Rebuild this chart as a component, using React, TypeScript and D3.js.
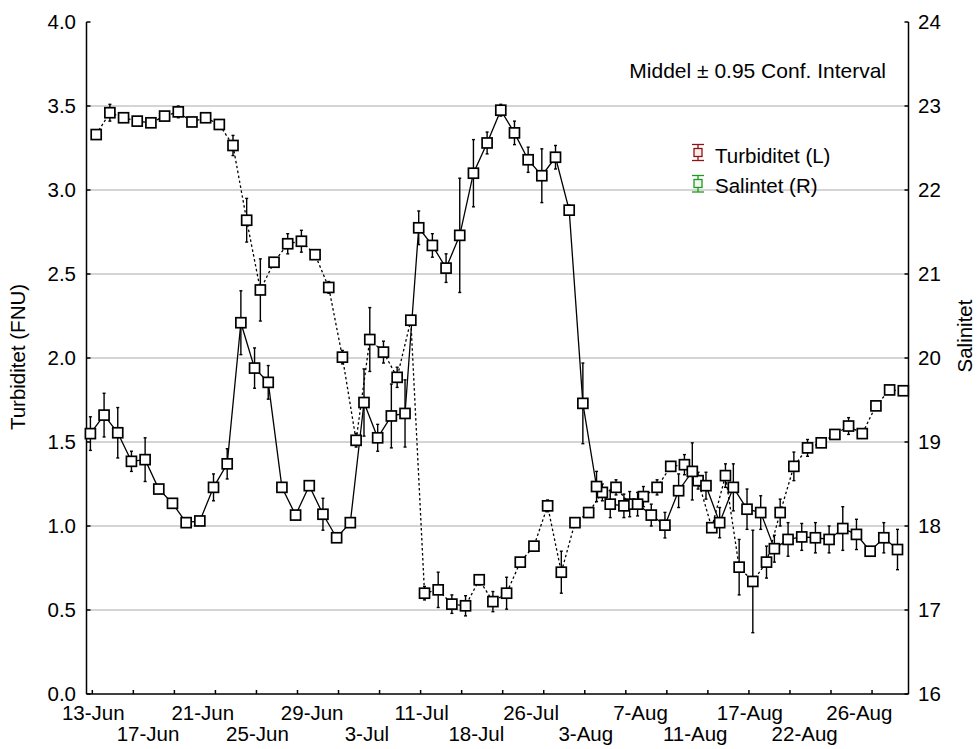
import React from 'react';
import * as d3 from 'd3';

// Sampling-date labels shown under every fourth sample
const dateLabels = ['13-Jun', '17-Jun', '21-Jun', '25-Jun', '29-Jun', '3-Jul', '11-Jul', '18-Jul', '26-Jul', '3-Aug', '7-Aug', '11-Aug', '17-Aug', '22-Aug', '26-Aug'];

// Turbidity (FNU), mean per sample and half-width of 0.95 confidence interval
const turbidityMean = [1.55, 1.66, 1.555, 1.385, 1.395, 1.22, 1.135, 1.02, 1.03, 1.23, 1.37, 2.21, 1.94, 1.855, 1.23, 1.065, 1.24, 1.07, 0.93, 1.02, 1.735, 1.525, 1.655, 1.67, 2.775, 2.67, 2.535, 2.73, 3.1, 3.28, 3.475, 3.34, 3.18, 3.085, 3.195, 2.88, 1.73, 1.235, 1.13, 1.12, 1.13, 1.065, 1.005, 1.21, 1.325, 1.24, 1.02, 1.23, 1.1, 1.08, 0.865, 0.92, 0.935, 0.93, 0.92, 0.985, 0.95, 0.85, 0.93, 0.86];
const turbidityCI = [0.1, 0.13, 0.15, 0.06, 0.13, 0.02, 0.02, 0.02, 0.02, 0.08, 0.09, 0.19, 0.12, 0.1, 0.02, 0.02, 0.02, 0.095, 0.02, 0.02, 0.2, 0.08, 0.19, 0.2, 0.1, 0.07, 0.085, 0.34, 0.2, 0.065, 0.035, 0.07, 0.075, 0.16, 0.07, 0.03, 0.24, 0.09, 0.08, 0.07, 0.07, 0.065, 0.076, 0.1, 0.17, 0.08, 0.09, 0.14, 0.12, 0.1, 0.08, 0.1, 0.08, 0.09, 0.08, 0.13, 0.09, 0.02, 0.09, 0.12];

// Salinity, mean per sample and half-width of 0.95 confidence interval
const salinityMean = [22.66, 22.92, 22.86, 22.82, 22.8, 22.88, 22.93, 22.81, 22.86, 22.78, 22.53, 21.64, 20.81, 21.14, 21.36, 21.39, 21.23, 20.84, 20.01, 19.02, 20.22, 20.07, 19.77, 20.45, 17.2, 17.24, 17.07, 17.05, 17.36, 17.1, 17.2, 17.57, 17.76, 18.24, 17.45, 18.04, 18.16, 18.4, 18.46, 18.26, 18.35, 18.46, 18.71, 18.73, 18.54, 17.98, 18.6, 17.51, 17.34, 17.57, 18.16, 18.71, 18.93, 18.99, 19.09, 19.19, 19.1, 19.43, 19.62, 19.61];
const salinityCI = [0.05, 0.1, 0.04, 0.04, 0.04, 0.04, 0.07, 0.04, 0.04, 0.04, 0.12, 0.26, 0.37, 0.05, 0.12, 0.13, 0.04, 0.07, 0.08, 0.08, 0.38, 0.13, 0.12, 0.05, 0.08, 0.21, 0.11, 0.12, 0.06, 0.12, 0.19, 0.04, 0.04, 0.07, 0.25, 0.04, 0.04, 0.1, 0.09, 0.15, 0.12, 0.09, 0.05, 0.12, 0.1, 0.05, 0.14, 0.33, 0.61, 0.19, 0.16, 0.17, 0.1, 0.04, 0.04, 0.1, 0.04, 0.04, 0.04, 0.04];

const leftTicks = [0, 0.5, 1, 1.5, 2, 2.5, 3, 3.5, 4];
const rightTicks = [16, 17, 18, 19, 20, 21, 22, 23, 24];

const W = 978;
const H = 749;
const plot = { left: 86.5, right: 908.5, top: 22, bottom: 694 };
const FONT = '"Liberation Sans", Arial, Helvetica, sans-serif';
const FS = 20.5;

const samples = d3.range(turbidityMean.length);

export default function App() {
  const x = d3.scaleLinear().domain([0, samples.length - 1]).range([93.3, 900.4]);
  const yL = d3.scaleLinear().domain([0, 4]).range([plot.bottom, plot.top]);
  const yR = d3.scaleLinear().domain([16, 24]).range([plot.bottom, plot.top]);

  // the two series are drawn slightly apart within each sample slot
  const offT = -2.9;
  const offS = 2.9;

  const turbLine = d3.line<number>().x((i) => x(i) + offT).y((i) => yL(turbidityMean[i]));
  const salLine = d3.line<number>().x((i) => x(i) + offS).y((i) => yR(salinityMean[i]));

  const xTicks = samples.filter((i) => i % 3 === 0);
  const sq = 10;

  const errorBar = (cx: number, y1: number, y2: number, key: string) => (
    <g key={key} stroke="#000" strokeWidth={1.4}>
      <line x1={cx} x2={cx} y1={y1} y2={y2} />
      <line x1={cx - 1.5} x2={cx + 1.5} y1={y1} y2={y1} />
      <line x1={cx - 1.5} x2={cx + 1.5} y1={y2} y2={y2} />
    </g>
  );

  return (
    <svg width={W} height={H} style={{ position: 'absolute', left: 0, top: 0, background: '#fff' }} fontFamily={FONT}>
      <rect x={0} y={0} width={W} height={H} fill="#fff" />
      {/* horizontal dotted grid */}
      {leftTicks.filter((t) => t > 0 && t < 4).map((t) => (
        <line key={'g' + t} x1={plot.left} x2={plot.right} y1={yL(t)} y2={yL(t)} stroke="#555" strokeWidth={1} strokeDasharray="1 1" />
      ))}

      {/* axes */}
      <g stroke="#000" strokeWidth={1.5} fill="none">
        <line x1={plot.left} x2={plot.left} y1={plot.top} y2={plot.bottom} />
        <line x1={plot.right} x2={plot.right} y1={plot.top} y2={plot.bottom} />
        <line x1={plot.left} x2={plot.right} y1={plot.bottom} y2={plot.bottom} />
        {leftTicks.map((t) => (
          <line key={'lt' + t} x1={plot.left} x2={plot.left + 4} y1={yL(t)} y2={yL(t)} />
        ))}
        {rightTicks.map((t) => (
          <line key={'rt' + t} x1={plot.right} x2={plot.right - 4} y1={yR(t)} y2={yR(t)} />
        ))}
        {xTicks.map((i) => (
          <line key={'xt' + i} x1={x(i) - 1} x2={x(i) - 1} y1={plot.bottom} y2={plot.bottom - 4} />
        ))}
      </g>

      {/* tick labels */}
      <g fontSize={FS} fill="#000">
        {leftTicks.map((t) => (
          <text key={'ll' + t} x={76} y={yL(t) + FS * 0.36} textAnchor="end">{d3.format('.1f')(t)}</text>
        ))}
        {rightTicks.map((t) => (
          <text key={'rl' + t} x={918} y={yR(t) + FS * 0.36} textAnchor="start">{t}</text>
        ))}
        {dateLabels.map((d, j) => (
          <text key={'dl' + d} x={x(j * 4)} y={j % 2 === 0 ? 720 : 741} textAnchor="middle">{d}</text>
        ))}
      </g>

      {/* axis titles */}
      <text fontSize={FS} transform={`translate(25,357) rotate(-90)`} textAnchor="middle">Turbiditet (FNU)</text>
      <text fontSize={FS} transform={`translate(972,336) rotate(-90)`} textAnchor="middle">Salinitet</text>

      <text fontSize={21} x={886} y={78} textAnchor="end">Middel ± 0.95 Conf. Interval</text>

      {/* series lines */}
      <path d={salLine(samples) || ''} fill="none" stroke="#000" strokeWidth={1.3} strokeDasharray="2.5 2.5" />
      <path d={turbLine(samples) || ''} fill="none" stroke="#000" strokeWidth={1.3} />

      {/* confidence intervals */}
      {samples.map((i) => errorBar(x(i) + offS, yR(salinityMean[i] + salinityCI[i]), yR(salinityMean[i] - salinityCI[i]), 'se' + i))}
      {samples.map((i) => errorBar(x(i) + offT, yL(turbidityMean[i] + turbidityCI[i]), yL(turbidityMean[i] - turbidityCI[i]), 'te' + i))}

      {/* markers */}
      {samples.map((i) => (
        <rect key={'sm' + i} x={x(i) + offS - sq / 2} y={yR(salinityMean[i]) - sq / 2} width={sq} height={sq} fill="#fff" stroke="#000" strokeWidth={1.7} />
      ))}
      {samples.map((i) => (
        <rect key={'tm' + i} x={x(i) + offT - sq / 2} y={yL(turbidityMean[i]) - sq / 2} width={sq} height={sq} fill="#fff" stroke="#000" strokeWidth={1.7} />
      ))}

      {/* legend */}
      <g>
        <g stroke="#8b1414" strokeWidth={1.3}>
          <line x1={698} x2={698} y1={144.5} y2={160.5} />
          <line x1={692} x2={704} y1={144.5} y2={144.5} />
          <line x1={692} x2={704} y1={160.5} y2={160.5} />
          <rect x={694} y={148.5} width={8} height={8} fill="#fbeaea" />
        </g>
        <text fontSize={FS} x={715} y={163}>Turbiditet (L)</text>
        <g stroke="#1f9a1f" strokeWidth={1.3}>
          <line x1={698} x2={698} y1={175.5} y2={192} />
          <line x1={692} x2={704} y1={175.5} y2={175.5} />
          <line x1={692} x2={704} y1={192} y2={192} />
          <rect x={694} y={179.5} width={8} height={8} fill="#eef8ee" />
        </g>
        <text fontSize={FS} x={715} y={193}>Salintet (R)</text>
      </g>
    </svg>
  );
}
